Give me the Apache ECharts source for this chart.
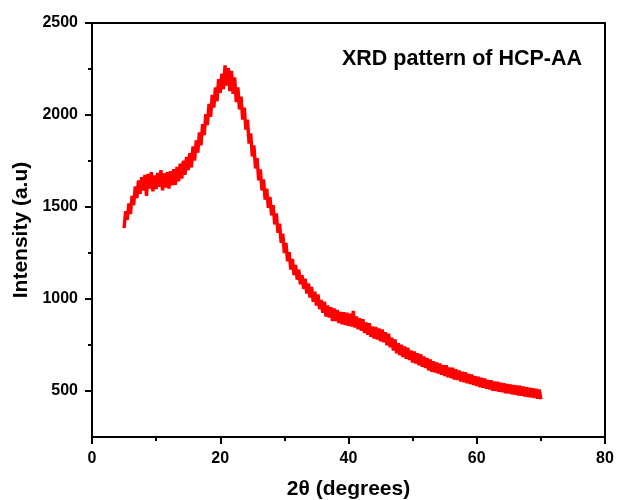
<!DOCTYPE html>
<html>
<head>
<meta charset="utf-8">
<script src="https://cdn.jsdelivr.net/npm/echarts@6/dist/echarts.min.js"></script>
<style>html,body{margin:0;padding:0;background:#fff}#c{width:617px;height:500px}</style>
</head>
<body>
<div id="c"></div>
<script>
// 2θ sampling: start and step (degrees)
var thetaStart = 5;
var thetaStep = 0.25;
// Intensity (a.u.), one value per 0.25°
var intensity = [
1385,1478,1430,1520, 1462,1560,1510,1612, 1548,1645,1572,1662, 1590,1675,1560,1680,
1600,1690,1585,1672, 1598,1685,1610,1700, 1590,1682,1605,1690, 1600,1695,1618,1705,
1620,1718,1640,1735, 1655,1752,1675,1772, 1700,1792,1715,1830, 1752,1862,1795,1905,
1835,1950,1890,2005, 1945,2060,1990,2110, 2040,2150,2075,2195, 2120,2225,2140,2270,
2160,2255,2130,2240, 2115,2205,2070,2150, 2030,2100,1975,2040, 1920,1975,1845,1900,
1775,1835,1710,1765, 1645,1705,1590,1650, 1540,1600,1495,1555, 1455,1510,1405,1465,
1360,1410,1305,1355, 1250,1305,1205,1255, 1160,1218,1130,1185, 1105,1160,1080,1130,
1055,1110,1030,1085, 1008,1065,985,1040, 965,1025,945,995, 925,985,905,965,
900,955,880,948, 880,940,870,930, 862,928,858,925, 855,920,850,935,
845,905,835,895, 828,890,815,872, 805,868,795,850, 785,848,780,840,
770,835,765,820, 748,812,738,790, 720,780,705,760, 695,752,685,742,
675,735,668,720, 655,715,650,705, 640,700,632,688, 625,680,612,672,
605,662,600,655, 595,650,588,640, 582,640,575,628, 570,626,562,618,
560,612,552,605, 548,602,542,592, 538,590,532,580, 528,578,520,572,
518,568,512,560, 508,558,502,552, 500,550,496,545, 494,542,488,538,
486,535,482,532, 480,530,476,528, 475,525,470,520, 468,518,465,515,
462,512,458,508, 455
];
var yTicks = [500, 1000, 1500, 2000, 2500];
var yMinorTicks = [750, 1250, 1750, 2250];
var xTicks = [0, 20, 40, 60, 80];
var chartTitle = 'XRD pattern of HCP-AA';
var xName = '2θ (degrees)';
var yName = 'Intensity (a.u)';

var seriesData = intensity.map(function (v, i) { return [thetaStart + i * thetaStep, v]; });

var font = 'Liberation Sans, Arial, sans-serif';
var chart = echarts.init(document.getElementById('c'), null, {renderer: 'canvas'});
chart.setOption({
  animation: false,
  backgroundColor: '#fff',
  grid: {left: 92, right: 12, top: 23, bottom: 63, containLabel: false, outerBoundsMode: 'none'},
  graphic: [{
    type: 'text', left: 342, top: 48,
    style: {text: chartTitle, font: 'bold 21.5px ' + font, fill: '#000'}
  }],
  xAxis: [{
    type: 'value', min: 0, max: 80, interval: 20,
    name: xName, nameLocation: 'middle', nameGap: 42,
    nameTextStyle: {fontFamily: font, fontWeight: 'bold', fontSize: 21, color: '#000'},
    axisLine: {show: true, lineStyle: {color: '#000', width: 2}},
    axisTick: {show: true, inside: false, length: 7, lineStyle: {color: '#000', width: 2}},
    minorTick: {show: true, splitNumber: 2, length: 4, lineStyle: {color: '#000', width: 2}},
    axisLabel: {margin: 14, fontFamily: font, fontWeight: 'bold', fontSize: 16, color: '#000',
      formatter: function (v) { return xTicks.indexOf(v) >= 0 ? String(v) : ''; }},
    splitLine: {show: false}
  }, {
    type: 'value', position: 'top', min: 0, max: 80,
    axisLine: {show: true, onZero: false, lineStyle: {color: '#000', width: 2}},
    axisTick: {show: false}, axisLabel: {show: false}, splitLine: {show: false}
  }],
  yAxis: [{
    type: 'value', min: 250, max: 2500, interval: 250,
    name: yName, nameLocation: 'middle', nameGap: 58, nameRotate: 90,
    nameTextStyle: {fontFamily: font, fontWeight: 'bold', fontSize: 21, color: '#000'},
    axisLine: {show: true, lineStyle: {color: '#000', width: 2}},
    axisTick: {show: true, inside: false, length: 7, customValues: yTicks, lineStyle: {color: '#000', width: 2}},
    axisLabel: {margin: 14, fontFamily: font, fontWeight: 'bold', fontSize: 16, color: '#000',
      customValues: yTicks, formatter: function (v) { return String(v); }},
    splitLine: {show: false}
  }, {
    type: 'value', position: 'right', min: 250, max: 2500,
    axisLine: {show: true, onZero: false, lineStyle: {color: '#000', width: 2}},
    axisTick: {show: false}, axisLabel: {show: false}, splitLine: {show: false}
  }, {
    type: 'value', position: 'left', min: 250, max: 2500,
    axisLine: {show: false},
    axisTick: {show: true, inside: false, length: 4, customValues: yMinorTicks, lineStyle: {color: '#000', width: 2}},
    axisLabel: {show: false}, splitLine: {show: false}
  }],
  series: [{
    type: 'line', data: seriesData, xAxisIndex: 0, yAxisIndex: 0,
    showSymbol: false, symbol: 'none',
    lineStyle: {color: '#ff0000', width: 3.4}
  }]
});
</script>
</body>
</html>
